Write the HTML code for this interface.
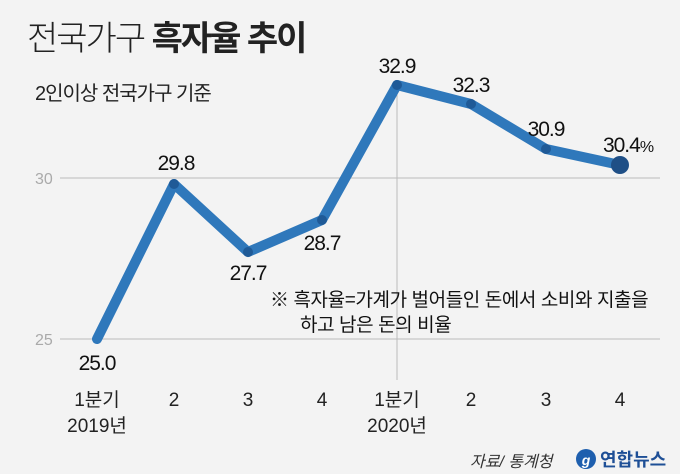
<!DOCTYPE html><html><head><meta charset="utf-8"><style>
body{margin:0;background:#f3f3f3;}
svg{display:block;font-family:"Liberation Sans","Noto Sans CJK KR",sans-serif;}
</style></head><body>
<svg width="680" height="474" viewBox="0 0 680 474">
<rect width="680" height="474" fill="#f3f3f3"/>
<text x="27" y="50" font-size="34" fill="#222" font-weight="300" letter-spacing="-2">전국가구 <tspan font-weight="bold">흑자율 추이</tspan></text>
<text x="35" y="100" font-size="20" fill="#222" letter-spacing="-1">2인이상 전국가구 기준</text>
<line x1="60" y1="178" x2="660" y2="178" stroke="#bbb" stroke-width="1"/>
<line x1="60" y1="339" x2="660" y2="339" stroke="#bbb" stroke-width="1"/>
<line x1="397" y1="90" x2="397" y2="380" stroke="#bbb" stroke-width="1"/>
<text x="35" y="184" font-size="16" fill="#aaa">30</text>
<text x="35" y="345" font-size="16" fill="#aaa">25</text>
<polyline points="97,339 174,184 248,252 322,220 397,85 471,104 546,149 620,165" fill="none" stroke="#2f78bb" stroke-width="10" stroke-linejoin="round" stroke-linecap="round"/>
<circle cx="174" cy="184" r="5" fill="#1f5a97"/><circle cx="248" cy="252" r="5" fill="#1f5a97"/><circle cx="322" cy="220" r="5" fill="#1f5a97"/><circle cx="397" cy="85" r="5" fill="#1f5a97"/><circle cx="471" cy="104" r="5" fill="#1f5a97"/><circle cx="546" cy="149" r="5" fill="#1f5a97"/>
<circle cx="620" cy="165" r="9" fill="#1f4f86"/>
<g font-size="21" fill="#111" text-anchor="middle" letter-spacing="-1">
<text x="97" y="370">25.0</text>
<text x="176" y="170">29.8</text>
<text x="248" y="280">27.7</text>
<text x="322" y="250">28.7</text>
<text x="397" y="73">32.9</text>
<text x="471" y="92">32.3</text>
<text x="546" y="136">30.9</text>
<text x="628" y="152">30.4<tspan font-size="16">%</tspan></text>
</g>
<text x="270" y="306" font-size="19" fill="#111" letter-spacing="-0.4">※ 흑자율=가계가 벌어들인 돈에서 소비와 지출을</text>
<text x="300" y="331" font-size="19" fill="#111" letter-spacing="-0.4">하고 남은 돈의 비율</text>
<g font-size="19" fill="#222" text-anchor="middle">
<text x="97" y="406">1분기</text><text x="97" y="432">2019년</text>
<text x="174" y="406">2</text><text x="248" y="406">3</text><text x="322" y="406">4</text>
<text x="397" y="406">1분기</text><text x="397" y="432">2020년</text>
<text x="471" y="406">2</text><text x="546" y="406">3</text><text x="620" y="406">4</text>
</g>
<text x="470" y="467" font-size="16" fill="#333" font-style="italic">자료/ 통계청</text>
<circle cx="586" cy="459" r="10" fill="#1e5fae"/>
<text x="586" y="465" font-size="14" fill="#fff" text-anchor="middle" font-style="italic" font-weight="bold">g</text>
<text x="600" y="466" font-size="18" fill="#1e4f96" font-weight="bold">연합뉴스</text>
</svg></body></html>
